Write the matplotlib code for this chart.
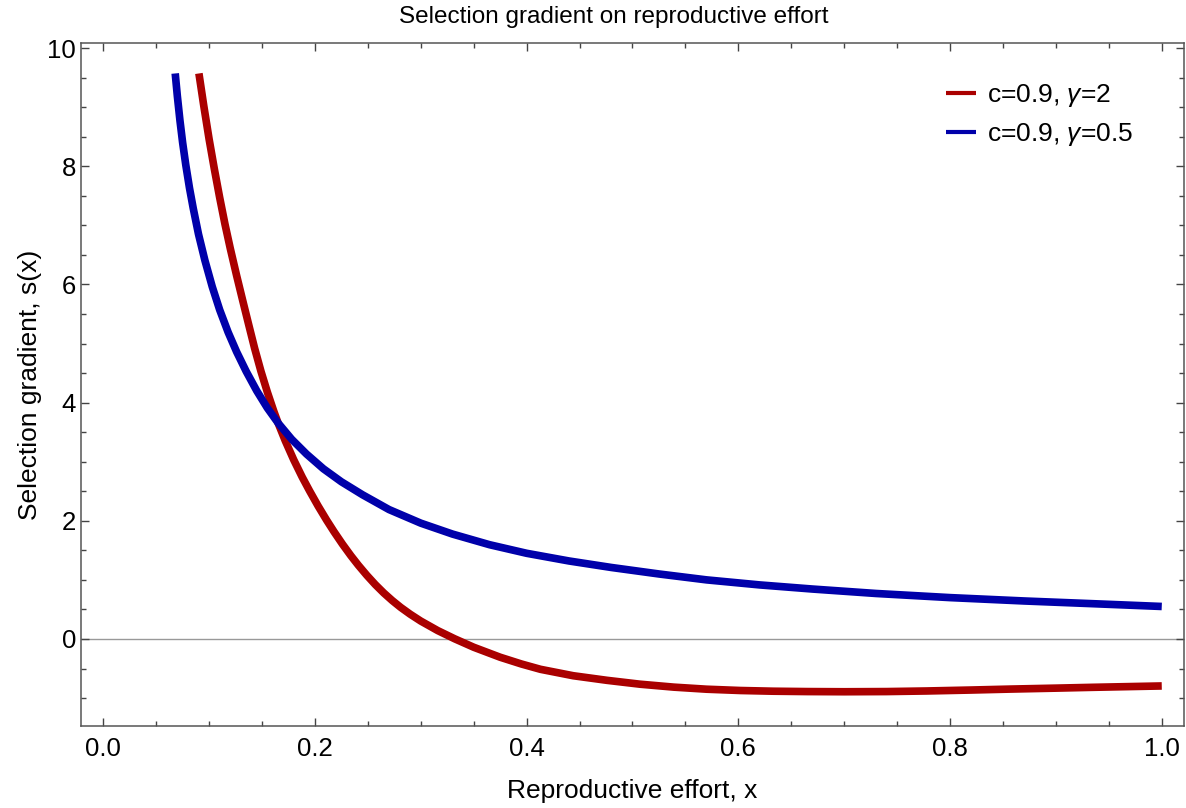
import matplotlib
matplotlib.use('Agg')
import matplotlib.pyplot as plt
from matplotlib.ticker import MultipleLocator

# values (c=0.9, gamma=2)
x_red = [0.0904, 0.095, 0.100, 0.105, 0.110, 0.115, 0.120, 0.126, 0.132, 0.1374,
         0.143, 0.149, 0.155, 0.161, 0.1654, 0.172, 0.180, 0.188, 0.195, 0.203,
         0.211, 0.218, 0.226, 0.234, 0.241, 0.249, 0.257, 0.265, 0.273, 0.281,
         0.290, 0.300, 0.316, 0.332, 0.350, 0.375, 0.395, 0.413, 0.444, 0.476,
         0.507, 0.539, 0.570, 0.602, 0.633, 0.665, 0.700, 0.740, 0.778, 0.820,
         0.857, 0.900, 0.935, 1.0]
y_red = [9.57, 9.02, 8.46, 7.95, 7.47, 7.02, 6.61, 6.15, 5.71, 5.32,
         4.92, 4.53, 4.18, 3.86, 3.645, 3.352, 3.030, 2.738, 2.504, 2.250,
         2.012, 1.816, 1.605, 1.408, 1.248, 1.078, 0.921, 0.779, 0.651, 0.535,
         0.419, 0.303, 0.142, 0.003, -0.140, -0.309, -0.423, -0.513, -0.622, -0.700,
         -0.765, -0.815, -0.850, -0.872, -0.884, -0.890, -0.893, -0.890, -0.880, -0.864,
         -0.848, -0.832, -0.818, -0.795]

# values (c=0.9, gamma=0.5)
x_blue = [0.068, 0.070, 0.0725, 0.075, 0.078, 0.0815, 0.085, 0.090, 0.096, 0.103,
          0.110, 0.118, 0.126, 0.135, 0.145, 0.155, 0.1654, 0.178, 0.192, 0.208,
          0.225, 0.245, 0.270, 0.300, 0.330, 0.365, 0.400, 0.440, 0.480, 0.525,
          0.570, 0.620, 0.670, 0.730, 0.800, 0.870, 0.935, 1.0]
y_blue = [9.57, 9.19, 8.77, 8.40, 8.02, 7.63, 7.29, 6.85, 6.41, 5.96,
          5.57, 5.19, 4.86, 4.53, 4.20, 3.91, 3.65, 3.38, 3.13, 2.88,
          2.66, 2.44, 2.19, 1.96, 1.775, 1.595, 1.45, 1.32, 1.21, 1.10,
          1.00, 0.915, 0.845, 0.77, 0.70, 0.643, 0.597, 0.55]

labels = [r'c=0.9, $\gamma$=2', r'c=0.9, $\gamma$=0.5']
x_ticks = [0.0, 0.2, 0.4, 0.6, 0.8, 1.0]
y_ticks = [0, 2, 4, 6, 8, 10]

plt.rcParams['font.family'] = ['Liberation Sans', 'DejaVu Sans']
plt.rcParams['mathtext.fontset'] = 'custom'
plt.rcParams['mathtext.it'] = 'Liberation Sans:italic'
plt.rcParams['mathtext.rm'] = 'Liberation Sans'

fig = plt.figure(figsize=(11.86, 8.08), dpi=100)
ax = fig.add_axes([0.0683, 0.1019, 0.9300, 0.8445])

ax.axhline(0, color='#999999', lw=1.0, zorder=1)
ax.plot(x_red, y_red, color='#aa0000', lw=5.5, label=labels[0], solid_capstyle='butt',
        solid_joinstyle='round', zorder=3)
ax.plot(x_blue, y_blue, color='#0000aa', lw=5.5, label=labels[1], solid_capstyle='butt',
        solid_joinstyle='round', zorder=3)

ax.set_xlim(-0.021, 1.021)
ax.set_ylim(-1.467, 10.08)
ax.set_xticks(x_ticks)
ax.set_xticklabels(['%.1f' % t for t in x_ticks])
ax.set_yticks(y_ticks)
ax.xaxis.set_minor_locator(MultipleLocator(0.05))
ax.yaxis.set_minor_locator(MultipleLocator(0.5))
ax.tick_params(which='both', direction='in', top=True, right=True, color='#444444', width=1)
ax.tick_params(which='major', length=6, labelsize=18.5)
ax.tick_params(which='minor', length=3.5)
ax.tick_params(axis='x', which='major', pad=8)
ax.tick_params(axis='y', which='major', pad=3.5)
for s in ax.spines.values():
    s.set_color('#555555')
    s.set_linewidth(1.1)

fig.text(614 / 1186, 1 - 17 / 808, 'Selection gradient on reproductive effort',
         fontsize=17.5, ha='center', va='center')
ax.set_xlabel('Reproductive effort, x', fontsize=19, labelpad=13)
ax.set_ylabel('Selection gradient, s(x)', fontsize=19, labelpad=4)

leg = ax.legend(loc='upper right', bbox_to_anchor=(0.975, 0.978), frameon=False,
                fontsize=19, handlelength=1.15, handletextpad=0.4, labelspacing=0.45)
for ln in leg.get_lines():
    ln.set_linewidth(3)

fig.savefig('out.png', dpi=100)
